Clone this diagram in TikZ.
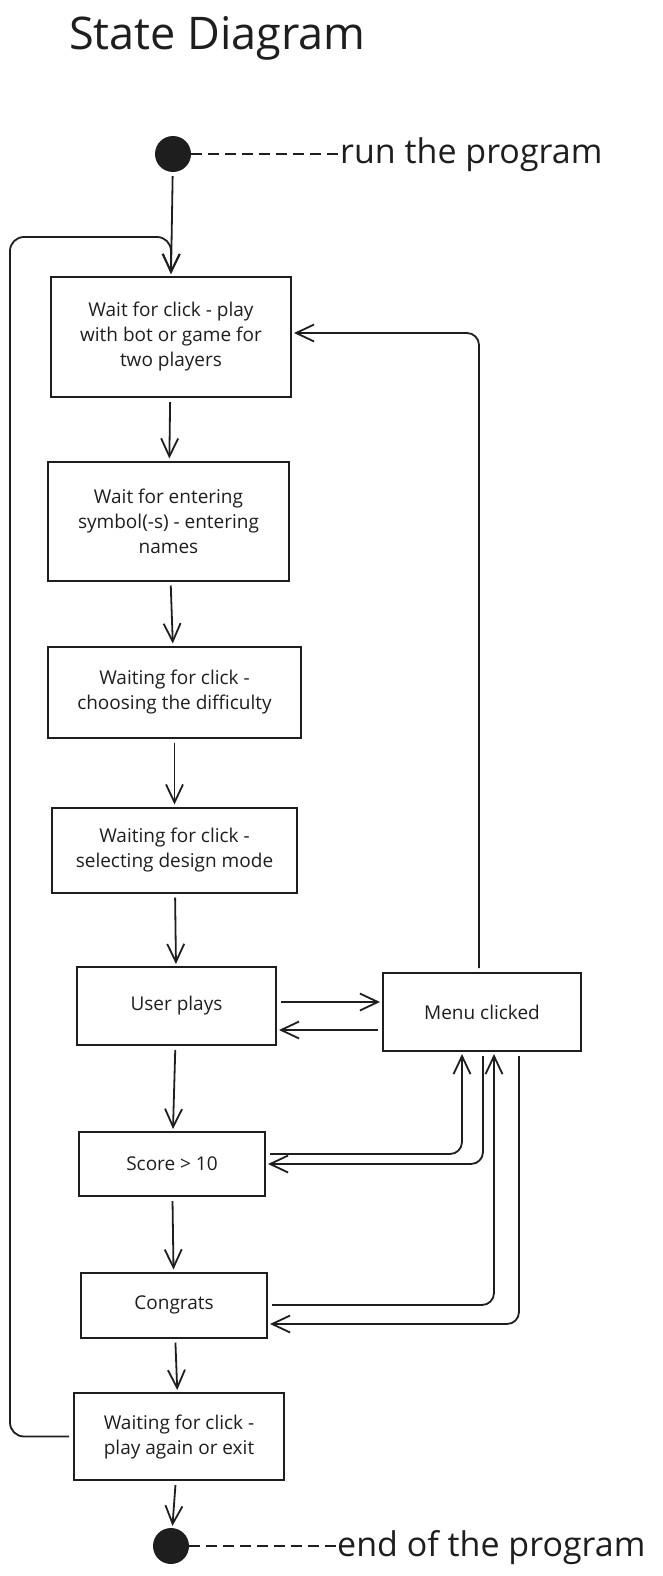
\documentclass[tikz,border=0pt]{standalone}
\usepackage{fontspec}
\setmainfont{Open Sans}
\usetikzlibrary{arrows.meta}
\definecolor{ink}{HTML}{1E1E1E}
\tikzset{
  state/.style={draw=ink, line width=2pt, align=center, text=ink, font=\fontsize{19}{25}\selectfont},
  arr/.style={draw=ink, line width=1.8pt, -{Straight Barb[length=18pt,width=17pt,line width=1.8pt]}, shorten <=4pt, shorten >=2pt},
  dot/.style={circle, fill=ink, minimum size=36pt, inner sep=0pt},
  lbl/.style={anchor=base west, inner sep=0pt, text=ink, font=\fontsize{34}{40}\selectfont},
  dashline/.style={draw=ink, line width=1.8pt, dash pattern=on 11pt off 6pt},
}
\begin{document}
\begin{tikzpicture}[x=1pt, y=-1pt]
\useasboundingbox (0,0) rectangle (662,1576);

\node[anchor=base west, inner sep=0pt, text=ink, font=\fontsize{45}{52}\selectfont] (title) at (69,50) {State Diagram};

\node[dot] (start) at (173,154) {};
\node[lbl] (runlbl) at (340,163) {run the program};
\draw[dashline] (start.east) -- (runlbl.west |- start);

\node[state, minimum width=240pt, minimum height=120pt] (menuwait) at (171,337) {Wait for click - play\\with bot or game for\\two players};
\node[state, minimum width=241pt, minimum height=119pt] (names) at (168.5,521) {Wait for entering\\symbol(-s) - entering\\names};
\node[state, minimum width=253pt, minimum height=91pt] (diff) at (174.5,692) {Waiting for click -\\choosing the difficulty};
\node[state, minimum width=245pt, minimum height=85pt] (design) at (174.5,850) {Waiting for click -\\selecting design mode};
\node[state, minimum width=199pt, minimum height=78pt] (plays) at (176.5,1006) {User plays};
\node[state, minimum width=198pt, minimum height=78pt] (menu) at (482,1012) {Menu clicked};
\node[state, minimum width=186pt, minimum height=64pt] (score) at (172,1164) {Score > 10};
\node[state, minimum width=186pt, minimum height=65pt] (congrats) at (174,1305) {Congrats};
\node[state, minimum width=210pt, minimum height=87pt] (again) at (179,1436.5) {Waiting for click -\\play again or exit};

\node[dot] (stop) at (171,1546) {};
\node[lbl] (endlbl) at (337,1556) {end of the program};
\draw[dashline] (stop.east) -- (endlbl.west |- stop);

\coordinate (loop) at (10,237);

\draw[arr] (start) -- (menuwait.north);
\draw[arr] (menuwait) -- (names);
\draw[arr] (names) -- (diff);
\draw[arr] (diff) -- (design);
\draw[arr] (design) -- (plays);
\draw[arr] (plays) -- (score);
\draw[arr] (score) -- (congrats);
\draw[arr] (congrats) -- (again);
\draw[arr] (again) -- (stop);

\draw[arr] ([yshift=4pt]plays.east) -- ([yshift=4pt]plays.east -| menu.west);
\draw[arr] ([yshift=-18pt]menu.west) -- ([yshift=-18pt]menu.west -| plays.east);
\draw[arr, rounded corners=12pt] ([xshift=-3pt]menu.north) |- ([yshift=4pt]menuwait.east);

\draw[arr, rounded corners=12pt] ([yshift=10pt]score.east) -| ([xshift=-20pt]menu.south);
\draw[arr, rounded corners=12pt] ([xshift=1pt]menu.south) |- (score.east);
\draw[arr, rounded corners=12pt] (congrats.east) -| ([xshift=12pt]menu.south);
\draw[arr, rounded corners=12pt] ([xshift=37pt]menu.south) |- ([yshift=-19pt]congrats.east);

\draw[arr, rounded corners=14pt] (again.west) -| (loop) -| (menuwait.north);
\end{tikzpicture}
\end{document}
